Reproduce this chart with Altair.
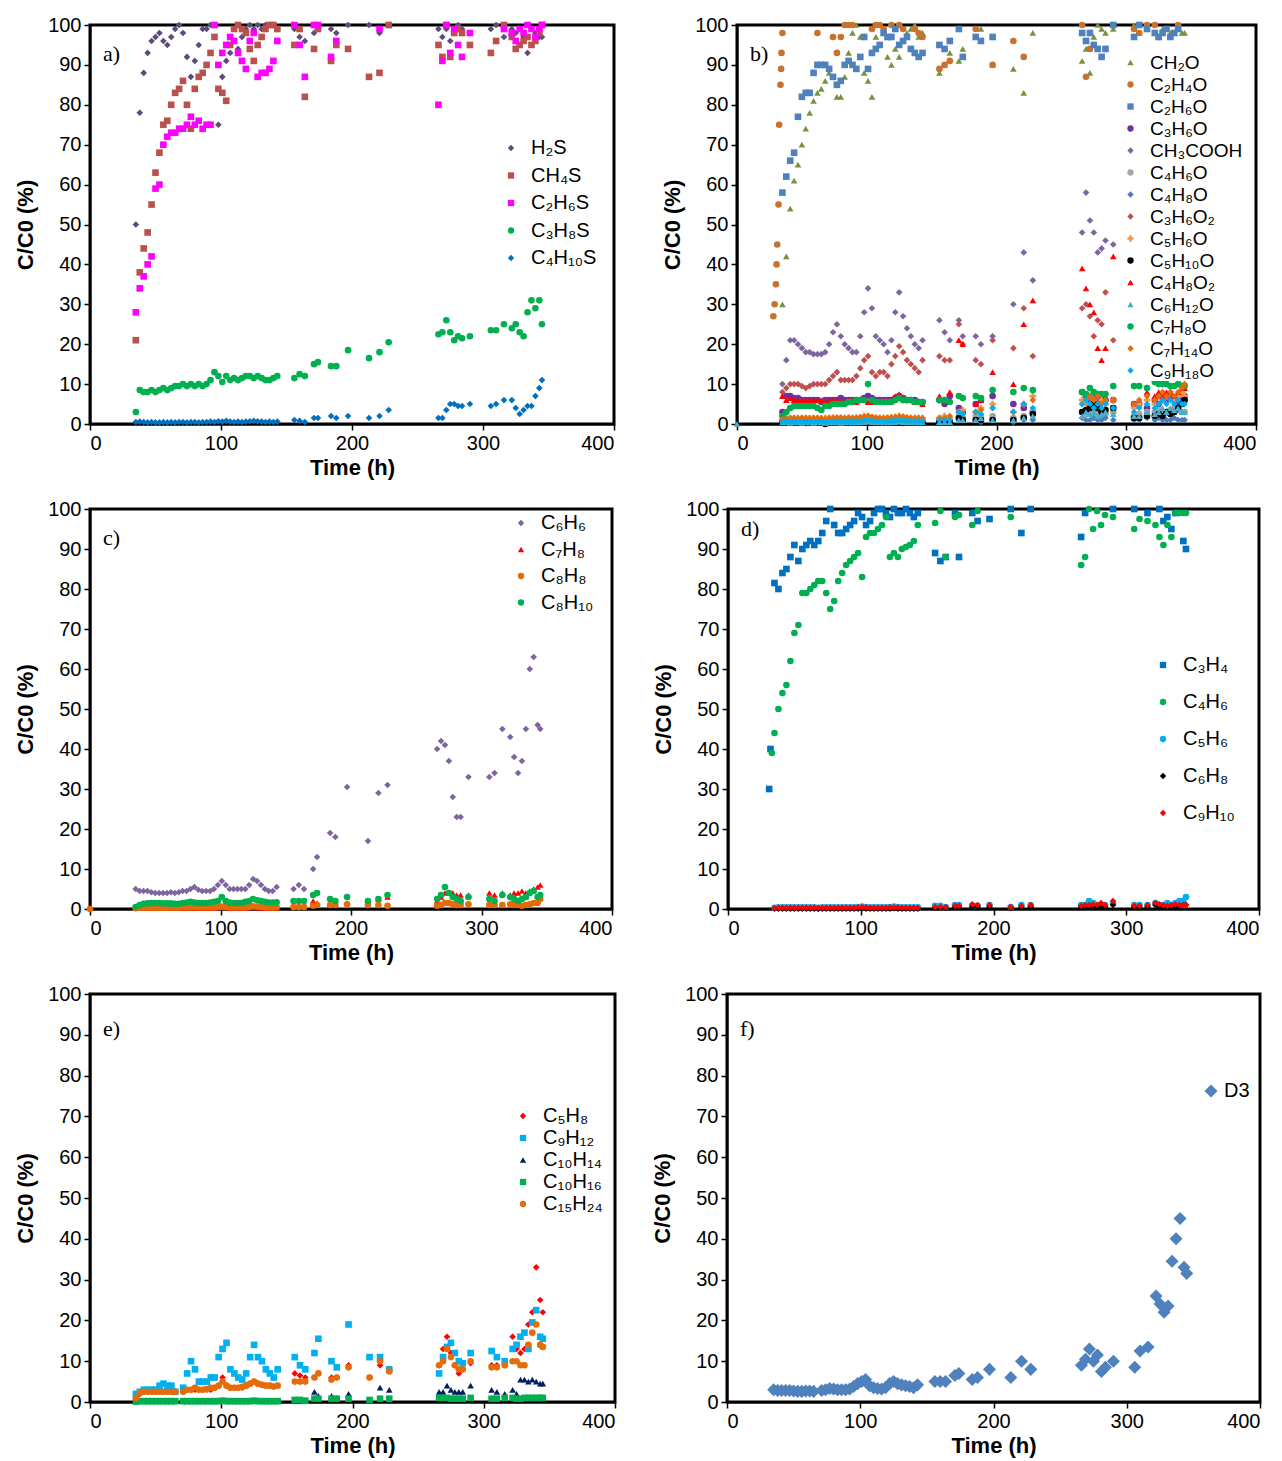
import altair as alt
import pandas as pd

N = None

# shared sampling times (h)
T = [35, 38, 41, 44, 47, 50, 53, 56, 59, 62, 65, 68, 71, 74, 77, 80, 83, 86, 89, 92,
     95, 98, 101, 104, 107, 110, 113, 116, 119, 122, 125, 128, 131, 134, 137, 140, 143,
     156, 160, 164, 171, 174, 184, 188, 197, 213, 221, 228, 266, 269, 272, 275, 278, 281, 284,
     290, 306, 310, 316, 322, 325, 328, 331, 334, 337, 340, 343, 345]

# ---------------- panel a ----------------
A_H2S = [50, 78, 88, 93, 96,  97, 98, 96, 95, 97,  99, 100, 98, 92, 87,  91, 95, 99, 99, 100,
         100, 75, 87, 91, 93,  96, 94, 97, 99, 100,  99, 100, 99, 100, 100,  100, 99,
         99, 97, 96, 98, 99,  99, 98, 100, 100, 98,  100, 99, 97, 99, 96,  98, 100, 99, 98, 99,
         100, 97, 99, 98, 99,  97, 93, 99, 98, 97,  97]
A_CH4S = [21, 38, 44, 48, 55,  63, 68, 75, 76, 80,  83, 84, 86, 80, 74,  84, 87, 88, 90, 93,
          97, 84, 83, 81, 95,  99, 100, 99, 98, 94,  91, 95, 97, 99, 100,  100, 99,
          95, 99, 82, 94, 99,  91, 95, 94, 87, 88,  100, 95, 92, 100, 92,  98, 99, 98, 95, 93,
          96, 100, 97, 94, 95,  96, 97, 95, 96, 98,  100]
A_C2H6S = [28, 34, 37, 40, 42,  59, 60, 70, 72, 73,  73, 74, 74, 75, 77,  75, 76, 74, 75, 75,
           100, 90, 93, 95, 97,  96, 93, 91, 89, 96,  98, 87, 88, 88, 89,  91, 96,
           100, 95, 87, 100, 100,  92, 96, N, N, 99,  N, 80, 91, 100, 93,  99, 95, 92, 98, N,
           N, 99, 98, 96, 99,  98, 100, 99, 97, 99,  100]
A_C3H8S = [3, 8.5, 8, 8, 8.5,  8, 8.5, 9, 8.5, 9,  9.5, 9.5, 10, 9.5, 10,  9.5, 10, 9.5, 10, 11,
           13, 12, 10.5, 12, 11,  11.5, 11, 11.5, 12, 12,  11.5, 12, 11.5, 11, 11,  11.5, 12,
           11.5, 12.5, 12, 15, 15.5,  14.5, 14.5, 18.5, 16.5, 18,  20.5, 22.5, 23, 26, 23,
           21, 22, 21.5, 22, 23.5,  23.5, 25, 24, 25, 23,  22, 28, 31, 29, 31,  25]
A_C4H10S = [0.5, 0.6, 0.5, 0.4, 0.5,  0.4, 0.4, 0.5, 0.4, 0.5,  0.4, 0.5, 0.5, 0.4, 0.5,
            0.5, 0.4, 0.5, 0.5, 0.6,  0.5, 0.7, 0.6, 0.8, 0.6,  0.5, 0.6, 0.5, 0.6, 0.7,
            0.8, 0.7, 0.6, 0.5, 0.6,  0.5, 0.6,
            1, 0.8, 0.5, 1.5, 1.5,  2, 1.5, 2, 1.5, 2,  3.5, 1.5, 1.5, 3.5, 5,  5, 4.5, 4.5, 5, 4.5,
            5, 6, 6, 4, 2.5,  3.5, 4.5, 4.5, 7, 9,  11]

# ---------------- panel b ----------------
B_EARLY_T = [28, 29, 30, 30.5, 31, 32, 32.5, 33.5, 34, 34.3]
B_C2H4O_EARLY = [27, 30, 35, 40, 45, 55, 75, 85, 89, 93]
ZERO_T = [0]
ZERO_V = [0]

B_CH2O = [30, 42, 54, 61, 65,  70, 74, 78, 81, 83,  84, 86, 88, 87, 82,  82, 87, 93, 98, 100,
          97, 88, 86, 82, 97,  100, 98, 92, 90, 94,  92, 96, 98, 99, 100,  97, 98,
          88, 90, 93, 91, 94,  97, 99, 90, 89, 83,  98, 91, 94, 88, 97,  100, 99, 98, 99, 100,
          98, 99, 98, 97, 99,  99, 98, 98, 99, 98,  98]
B_C2H4O = [98, N, N, N, N,  N, N, N, N, 98,  N, N, N, 97, 93,  97, 100, 100, 100, N,
           N, N, N, 99, 100,  100, 99, N, 100, N,  100, 99, N, N, 99,  98, 97,
           89, 90, 91, N, N,  99, N, 90, 96, 92,  N, 100, 87, 94, N,  N, N, N, N, 99,
           98, 100, 100, 97, N,  N, N, N, 100, N,  N]
B_C2H6O = [58, 62, 66, 68, 77,  82, 83, 83, 88, 90,  90, 90, 89, 87, 85,  86, 90, 91, 90, 89,
           92, 97, 89, 93, 94,  95, 98, 97, 97, 99,  95, 96, 97, 94, 93,  92, 93,
           95, 94, 96, 99, 92,  97, 96, 97, N, N,  N, 98, 96, 98, 95,  94, 92, 94, 100, 97,
           100, 99, 98, 97, 98,  99, 97, 98, 99, N,  N]
B_C3H6O = [3, 7, 7, 6.5, 6.5,  6, 6, 6, 6, 6,  5.5, 6, 6, 6, 6,  6.5, 6, 6, 6, 6,
           6, 6.5, 7, 6.5, 6,  6, 6, 6, 6, 6.5,  7, 6.5, 6, 6, 6,  5.5, 5.5,
           6, 5, 7, 4, 3,  5, 6, 7, 5, 4,  3, 8, 7, 6, 7,  6, 7, 6, 6, 5,
           5, 4, 6, 5, 7,  6, 7, 6, 5, 6,  7]
B_CH3COOH = [10, 16, 21, 21, 20,  19, 18, 18, 17.5, 17.5,  17.5, 18, 20, 23, 25,  22, 20, 19, 18, 18,
             22, 28, 34, 29, 22,  21, 20, 18, 21, 28,  33, 27, 24, 22, 20,  19, 21,
             26, 23, 21, 26, 22,  22, 20, 22, 30, 43,  36, 48, 58, 51, 48,  43, 44, 46, 45, 45,
             N, N, N, N, N,  N, N, N, N, N,  N]
B_C4H6O = [0.5, 1, 1, 1, 1,  1, 1, 1, 1, 0.8,  1, 1, 1, 1, 1,  1, 1, 1, 1, 1,
           1, 1, 1.5, 1, 1,  1, 1, 1, 1, 1,  1.2, 1, 1, 1, 1,  1, 1,
           1, 1, 1, 2, 1.5,  2, 2, 2, 1.5, 2,  3, 3, 2.5, 3, 2.5,  3, 2, 2.5, 3, 2,
           2.5, 3, 3, 3.5, 2.5,  3, 3.5, 4, 3.5, 3,  3]
B_C4H8O = [0.3, 0.3, 0.2, 0.3, 0.3,  0.3, 0.2, 0.3, 0.3, 0.3,  0.3, 0.2, 0.3, 0.3, 0.3,
           0.3, 0.3, 0.2, 0.3, 0.3,  0.3, 0.3, 0.4, 0.3, 0.3,  0.3, 0.3, 0.3, 0.3, 0.3,
           0.4, 0.3, 0.3, 0.3, 0.3,  0.3, 0.3,
           0.5, 0.5, 0.5, 1, 1,  1, 0.5, 1, 0.5, 1,  1, 1.5, 1, 1, 1.5,  1, 1, 1.5, 1, 1,
           1, 1.5, 1, 1.5, 1,  1, 1, 1.5, 1, 1,  1]
B_C3H6O2 = [8, 9, 10, 10, 10,  9.5, 9, 9.5, 10, 10,  10, 10, 11, 12, 13,  11, 11, 11, 11, 12,
            14, 16, 17, 13, 12,  13, 13, 12, 15, 17,  19.5, 18, 16, 15, 14,  13, 16,
            17, 16, 16, 25, 20,  16, 15, 21, 19, 29,  17, 29, 30, 27, 22,  26, 25, 33, 21, N,
            N, N, N, N, N,  N, N, N, N, N,  N]
B_C5H6O = [1, 1.5, 1.5, 1.5, 1.5,  1.5, 1.5, 1.4, 1.5, 1.5,  1.4, 1.5, 1.5, 1.6, 1.5,
           1.5, 1.5, 1.6, 1.5, 1.5,  1.6, 2, 2, 1.6, 1.5,  1.5, 1.5, 1.5, 1.6, 1.8,
           2, 1.8, 1.6, 1.5, 1.5,  1.5, 1.4,
           1.5, 2, 1.5, 3, 3.5,  3, 4, 5, 3, 5,  7, 6, 5, 7, 6,  4, 6, 5, 6, 4,
           5, 6, 5, 7, 6,  7, 8, 6, 7, 8,  7]
B_C5H10O = [0.3, 0.3, 0.3, 0.3, 0.3,  0.3, 0.3, 0.3, 0.3, 0.3,  0.3, 0, 0.3, 0.3, 0.3,
            0.3, 0.3, 0.3, 0.3, 0.3,  0.3, 0.3, 0.4, 0.3, 0.3,  0.3, 0.3, 0.3, 0.3, 0.3,
            0.4, 0.3, 0.3, 0.3, 0.3,  0.3, 0.3,
            0.5, 0.5, 0.5, 1.5, 1,  1, 1, 1, 1, 1.5,  2.5, 3, 3.5, 4, 5,  4, 3, 3.5, 4, 1.5,
            1.5, 2, 2, 2.5, 2,  3, 2.5, 3, 4, 5,  6]
B_C4H8O2 = [7, 6, 6.5, 6, 6,  6, 6, 6, 6, 6,  6, 5.5, 6, 6, 6,  5.5, 5.5, 6, 6, 5.5,
            6, 6, 5.5, 5.5, 5.5,  6, 6, 6, 6, 7,  7.5, 6.5, 6, 6, 5.5,  5.5, 5,
            7, 6, 8, 21, 20,  5, 6, 13, 10, 25,  31, 39, 34, 30, 28,  19, 16, 19, 42, 31,
            28, 8, 7, 8, 7,  8, 8, 7, 8, 9,  9]
B_C6H12O = [0.4, 0.4, 0.3, 0.4, 0.4,  0.3, 0.4, 0.4, 0.3, 0.4,  0.4, 0.3, 0.4, 0.4, 0.4,
            0.3, 0.4, 0.4, 0.4, 0.4,  0.4, 0.5, 0.6, 0.5, 0.4,  0.4, 0.4, 0.4, 0.4, 0.5,
            0.6, 0.5, 0.4, 0.4, 0.4,  0.4, 0.4,
            0.5, 0.5, 0.5, 1, 1,  1, 1.5, 1, 1, 1.5,  2, 2, 3, 2.5, 3,  2, 2.5, 3, 2.5, 2,
            2, 3, 2.5, 3, 4,  3, 4, 3.5, 4, 3,  3]
B_C7H8O = [2, 3, 4, 4.5, 4.5,  4.5, 4.5, 4.5, 4.5, 4,  3.5, 4.5, 4.5, 5, 5,  5, 5, 5.5, 5.5, 6,
           6, 6, 10, 6, 5.5,  5.5, 5.5, 5.5, 5.5, 6,  6.5, 6, 6, 6, 5.5,  5.5, 5.5,
           6, 6, 5.5, 7, 6.5,  7, 6.5, 8.5, 8, 9,  8.5, 8, 7.5, 9, 8,  7.5, 7.5, 7.5, 9.5, 9.5,
           9.5, 9, 10.5, 10, 10,  10, 9.5, 9.5, 10, 9.5,  9.5]
B_C7H14O = [1.2, 1.4, 1.5, 1.5, 1.4,  1.5, 1.5, 1.4, 1.5, 1.5,  1.4, 1.3, 1.5, 1.5, 1.6,
            1.6, 1.5, 1.5, 1.5, 1.6,  1.7, 1.8, 2, 1.8, 1.6,  1.5, 1.5, 1.6, 1.6, 1.7,
            1.9, 1.8, 1.6, 1.5, 1.5,  1.5, 1.5,
            1.5, 1.5, 2, 3, 2.5,  3, 3.5, 4, 3, 5,  6, 5, 6, 7, 6,  7, 5, 6, 6, 5,
            6, 7, 6, 7, 8,  7, 8, 7, 8, 9,  10]
B_C9H18O = [0.5, 0.6, 0.6, 0.5, 0.6,  0.6, 0.5, 0.6, 0.6, 0.5,  0.6, 0.5, 0.6, 0.6, 0.6,
            0.6, 0.7, 0.6, 0.6, 0.6,  0.7, 0.8, 1, 0.9, 0.7,  0.7, 0.7, 0.7, 0.8, 0.9,
            1, 0.9, 0.8, 0.7, 0.7,  0.7, 0.7,
            1, 1, 1, 3, 2.5,  3, 2.5, 4, 3, 5,  4, 5, 6, 5, 4,  5, 4, 5, 4, 3,
            4, 5, 4, 5, 6,  5, 6, 5, 6, 5,  5]

# ---------------- panel c ----------------
C_C6H6 = [5, 4.5, 4.5, 4.5, 4.2,  4, 4, 4, 4, 4.2,  4, 4.2, 4.5, 4.5, 5,  5.5, 4.8, 4.5, 4.5, 4.5,
          5, 6, 7, 6, 5,  5, 5, 5, 5, 6,  7.5, 7, 6, 5, 4.5,  4.5, 5.5,
          5, 6, 5, 10, 13,  19, 18, 30.5, 17, 29,  31, 40, 42, 41, 37,  28, 23, 23, 33, 33,
          34, 45, 43, 38, 34,  37, 45, 60, 63, 46,  45]
C_C7H8 = [0.2, 0.3, 0.3, 0.3, 0.3,  0.3, 0.3, 0.3, 0.3, 0.3,  0.3, 0.2, 0.3, 0.3, 0.3,
          0.3, 0.3, 0.3, 0.3, 0.3,  0.3, 0.4, 0.5, 0.4, 0.3,  0.3, 0.3, 0.3, 0.3, 0.4,
          0.5, 0.4, 0.3, 0.3, 0.3,  0.3, 0.3,
          1, 1, 1, 2, 1.5,  1, 1, 1.5, 1.5, 2.5,  3, 2, 3, 4, 4,  4, 3.5, 3.5, 3.5, 4,
          3.5, 4, 3.5, 4, 4,  4.5, 4, 4.5, 5, 5.5,  6]
C_C8H8 = [0.2, 0.3, 0.3, 0.3, 0.3,  0.3, 0.3, 0.3, 0.3, 0.3,  0.3, 0.3, 0.4, 0.4, 0.4,
          0.4, 0.4, 0.4, 0.4, 0.4,  0.4, 0.5, 0.6, 0.5, 0.4,  0.4, 0.4, 0.4, 0.4, 0.5,
          0.7, 0.6, 0.5, 0.4, 0.4,  0.4, 0.4,
          0.5, 0.5, 0.5, 0.8, 1,  1, 1, 1.2, 1, 1,  0.8, 0.8, 1, 1.5, 1.5,  1.2, 1, 1, 1.2, 1,
          1, 1, 1.2, 1, 1,  0.8, 1, 1.2, 1.5, 1.5,  2.5]
C_C8H10 = [0.5, 1, 1.3, 1.4, 1.5,  1.5, 1.5, 1.4, 1.4, 1.4,  1.3, 1.3, 1.5, 1.6, 1.8,
           1.6, 1.5, 1.5, 1.5, 1.6,  1.8, 2, 3, 2, 1.6,  1.5, 1.5, 1.5, 1.8, 2,
           2.5, 2.2, 2, 1.8, 1.6,  1.6, 1.7,
           2, 2, 2, 3.5, 4,  2.5, 2, 3, 2, 2.5,  3.5, 2.5, 3.5, 5.5, 4,  3, 2.5, 2, 3, 2.5,
           2, 3.5, 3, 2.5, 2,  2.5, 3, 4, 4.5, 3,  3.5]

# ---------------- panel d ----------------
D_EARLY_T = [31, 32]
D_C3H4_EARLY = [30, 40]
D_C4H6_EARLY_T = [33]
D_C4H6_EARLY = [39]
D_C3H4 = [81.5, 80, 84, 85, 88,  91, 87, 90, 91, 92,  91, 92, 94, 97, 100,  96, 94, 94, 95, 96,
          97, 99, 98, 96, 97,  99, 100, 100, 99, 98,  100, 99, 99, 100, 99,  98, 99,
          89, 87, 88, 99, 88,  99, 97, 97.5, 100, 94,  100, 93, 99, N, N,  N, N, N, 100, 100,
          N, 99, N, 100, 97,  98, 95, 99, N, 92,  90]
D_C4H6 = [44, 50, 54, 56, 62,  69, 71, 79, 79, 80,  81, 82, 82, 79, 75,  77, 82, 84, 86, 87,
          88, 89, 83, 93, 94,  94, 95, 96, 98, 88,  89, 88, 90, 90.5, 91,  92, 96,
          96.5, 99.5, 88, 98, 98.5,  96, 99.5, N, 98, N,  N, 86, 88, 100, 95,  99.5, 96, 98.5, 98, 95,
          97.5, 97, 96, 93, 91,  96, 93, 99, 99, 99,  99]
D_C5H6 = [0.3, 0.4, 0.4, 0.4, 0.4,  0.4, 0.4, 0.4, 0.4, 0.4,  0.4, 0.3, 0.4, 0.4, 0.4,
          0.4, 0.4, 0.4, 0.4, 0.4,  0.4, 0.5, 0.6, 0.5, 0.4,  0.4, 0.4, 0.4, 0.4, 0.5,
          0.6, 0.5, 0.4, 0.4, 0.4,  0.4, 0.4,
          0.8, 0.8, 0.5, 1, 1,  0.8, 0.8, 1, 0.5, 1,  1, 1, 1, 2, 1.5,  1, 1, 1, 1.5, 1,
          1, 1, 1.5, 1, 1,  1.5, 1, 1.5, 2, 2,  3]
D_C6H8 = [0.1, 0.1, 0.1, 0.1, 0.1,  0.1, 0.1, 0.1, 0.1, 0.1,  0.1, 0, 0.1, 0.1, 0.1,
          0.1, 0.1, 0.1, 0.1, 0.1,  0.1, 0.1, 0.2, 0.1, 0.1,  0.1, 0.1, 0.1, 0.1, 0.1,
          0.2, 0.1, 0.1, 0.1, 0.1,  0.1, 0.1,
          0.3, 0.3, 0.3, 0.5, 0.5,  0.5, 0.5, 0.5, 0.3, 0.5,  0.5, 0.5, 0.5, 0.8, 0.5,  0.5, 0.5, 0.5, 1, 0.5,
          0.5, 0.5, 1, 0.5, 0.5,  0.5, 0.5, 0.5, 0.8, 1,  1]
D_C9H10 = [0.2, 0.3, 0.3, 0.3, 0.3,  0.3, 0.3, 0.3, 0.3, 0.3,  0.3, 0.3, 0.3, 0.3, 0.3,
           0.3, 0.3, 0.3, 0.3, 0.3,  0.3, 0.4, 0.5, 0.4, 0.3,  0.3, 0.3, 0.3, 0.3, 0.4,
           0.4, 0.4, 0.3, 0.3, 0.3,  0.3, 0.3,
           0.5, 0.5, 0.5, 0.8, 0.8,  1.2, 1, 1, 0.5, 0.8,  1, 0.8, 1, 1, 1.2,  1, 1.5, 1, 2, 0.8,
           0.8, 1, 1.5, 1.2, 1,  0.8, 1, 1.2, 1, 1,  1]

# ---------------- panel e ----------------
E_C5H8 = [1, 2, 2.5, 2.5, 2.5,  2.5, 2.5, 2.5, 2.5, 2.5,  2.7, N, 2.5, 3, 3,  3, 3, 3, 3, 3,
          3.5, 4, 6, 4, 3.5,  3.5, 3.5, 3.5, 4, 4.5,  5, 4.5, 4.2, 4, 4,  3.8, 4,
          7, 6.5, 6, N, N,  6, 6, 9, 6, 9,  8, 9, 13, 16, 12,  9, 7, 8, 9.5, 9,
          9, 9, 16, 13, 12,  13, 19, 22, 33, 25,  22]
E_C9H12 = [2, 2.5, 3, 3, 3,  3, 4, 4.5, 4, 4,  2.5, N, 3.5, 7, 10,  8, 5, 5, 5, 6,
           6, 11, 13, 14.5, 8,  7, 6, 5.5, 7, 11,  14, 11, 10, 8, 7,  6, 8,
           11, 9, 8, 12, 15.5,  10, 8.5, 19, 11, 11,  8, 7, 11, 13.5, 14.5,  12, 10, 9.5, 12, 12.5,
           11, 10, 13, 14, 16,  17, 13, 19.5, 22.5, 16,  15.5]
E_C10H14 = [0.2, 0.3, 0.3, 0.3, 0.3,  0.3, 0.3, 0.3, 0.3, 0.3,  0.3, N, 0.3, 0.3, 0.3,
            0.3, 0.3, 0.3, 0.3, 0.3,  0.3, 0.4, 0.5, 0.4, 0.3,  0.3, 0.3, 0.3, 0.3, 0.4,
            0.5, 0.4, 0.3, 0.3, 0.3,  0.3, 0.3,
            0.5, 0.5, 0.5, 2.5, 1.5,  1.5, 1, 2, 0.5, 3.5,  3, 2.5, 2.5, 4, 3,  2.5, 2.5, 2.5, 4, 3,
            2.5, 2, 3, 2, 5.5,  5.5, 5, 5.5, 5, 4.5,  4.5]
E_C10H16 = [0.1, 0.2, 0.2, 0.2, 0.2,  0.2, 0.2, 0.2, 0.2, 0.2,  0.2, N, 0.2, 0.2, 0.2,
            0.2, 0.2, 0.2, 0.2, 0.2,  0.2, 0.2, 0.3, 0.2, 0.2,  0.2, 0.2, 0.2, 0.2, 0.2,
            0.3, 0.2, 0.2, 0.2, 0.2,  0.2, 0.2,
            0.5, 0.5, 0.3, 0.8, 0.8,  0.8, 0.8, 0.8, 0.5, 0.8,  0.8, 1, 1, 1, 0.8,  0.8, 0.8, 0.8, 1, 0.8,
            0.8, 1, 1, 0.8, 0.8,  1, 1, 1, 1, 1,  1]
E_C15H24 = [1, 2.3, 2.5, 2.5, 2.5,  2.5, 2.5, 2.5, 2.5, 2.5,  2.5, N, 2.5, 3, 3,  3.5, 3, 3, 3.2, 3.5,
            3.5, 4, 5, 4, 3.5,  3.5, 3.5, 3.7, 4, 4.5,  5, 4.5, 4.2, 4, 4,  3.8, 4,
            5, 5, 5, 6, 7,  5.5, 6, 8.5, 6, 10,  7.5, 9, 10, 13, 11,  9, 8, 8, 10, 8.5,
            8.5, 9, 10, 10, 9,  9, 14, 17, 19, 14,  13.5]

# ---------------- panel f ----------------
F_D3 = [3, 2.8, 2.8, 2.8, 2.8,  2.7, 2.6, 2.6, 2.7, 2.7,  2.6, N, 2.8, 3, 3.3,  3.2, 3, 3, 3, 3.2,
        3.8, 4.5, 5, 5.5, 4,  3.5, 3.3, 3.2, 3.5, 4.5,  5, 4.5, 4.2, 4, 3.8,  3.5, 4.2,
        5, 5, 5, 6.5, 7,  5.5, 6, 8, 6, 10,  8, 9, 10.5, 13, 10,  11.5, 7.5, 8.5, 10, 8.5,
        12.5, 13.5, 26, 24, 22,  23.5, 34.5, 40, 45, 33,  31.5]

# ---------------- helpers ----------------
FONT = "Liberation Sans"


def build(entries):
    rows = []
    for name, vals, et, ev in entries:
        for t, v in zip(et, ev):
            rows.append({"t": t, "v": v, "s": name})
        for t, v in zip(T, vals):
            if v is not None:
                rows.append({"t": t, "v": v, "s": name})
    return pd.DataFrame(rows)


def panel(entries, colors, shapes, letter, lx, ly, row_pad, w, h, size=44,
          sym_size=40, lab_size=20, fill=None, letter_y=29, lab_off=10):
    names = [e[0] for e in entries]
    df = build(entries)
    leg_kw = dict(title=None, orient="none", legendX=lx, legendY=ly, direction="vertical",
                  rowPadding=row_pad, labelFont=FONT, labelFontSize=lab_size,
                  labelColor="black", symbolSize=sym_size, symbolStrokeWidth=0,
                  labelOffset=lab_off, padding=0, labelLimit=300)
    if fill:
        leg_kw["fillColor"] = fill
    leg = alt.Legend(**leg_kw)
    pts = alt.Chart(df).mark_point(filled=True, size=size, opacity=1, strokeWidth=0).encode(
        x=alt.X("t:Q", scale=alt.Scale(domain=[0, 400], nice=False),
                axis=alt.Axis(values=[0, 100, 200, 300, 400], title="Time (h)")),
        y=alt.Y("v:Q", scale=alt.Scale(domain=[0, 100], nice=False),
                axis=alt.Axis(values=[0, 10, 20, 30, 40, 50, 60, 70, 80, 90, 100],
                              title="C/C0 (%)")),
        color=alt.Color("s:N", scale=alt.Scale(domain=names, range=colors), legend=leg),
        shape=alt.Shape("s:N", scale=alt.Scale(domain=names, range=shapes), legend=leg),
    )
    txt = alt.Chart(pd.DataFrame({"lab": [letter]})).mark_text(
        font="Liberation Serif", fontSize=22, align="left", baseline="middle", color="black"
    ).encode(x=alt.value(13), y=alt.value(letter_y), text="lab:N")
    return alt.layer(pts, txt).properties(width=w, height=h)


pa = panel(
    [("H₂S", A_H2S, [], []), ("CH₄S", A_CH4S, [], []), ("C₂H₆S", A_C2H6S, [], []),
     ("C₃H₈S", A_C3H8S, [], []), ("C₄H₁₀S", A_C4H10S, [], [])],
    ["#604A7B", "#B9524C", "#FF00FF", "#00B050", "#0070C0"],
    ["diamond", "square", "square", "circle", "diamond"],
    "a)", 411, 113, 7.5, 524, 399)

pb = panel(
    [("CH₂O", B_CH2O, [], []), ("C₂H₄O", B_C2H4O, B_EARLY_T, B_C2H4O_EARLY),
     ("C₂H₆O", B_C2H6O, [], []), ("C₃H₆O", B_C3H6O, [], []),
     ("CH₃COOH", B_CH3COOH, [], []), ("C₄H₆O", B_C4H6O, [], []),
     ("C₄H₈O", B_C4H8O, [], []), ("C₃H₆O₂", B_C3H6O2, [], []),
     ("C₅H₆O", B_C5H6O, [], []), ("C₅H₁₀O", B_C5H10O, [], []),
     ("C₄H₈O₂", B_C4H8O2, [], []), ("C₆H₁₂O", B_C6H12O, ZERO_T, ZERO_V),
     ("C₇H₈O", B_C7H8O, [], []), ("C₇H₁₄O", B_C7H14O, [], []),
     ("C₉H₁₈O", B_C9H18O, [], [])],
    ["#77933C", "#C7732F", "#4F81BD", "#7030A0", "#7F64A2", "#A6A6A6", "#4A7EBB",
     "#C0504D", "#F79646", "#000000", "#FF0000", "#4BACC6", "#00B050", "#E46C0A", "#00B0F0"],
    ["triangle-up", "circle", "square", "circle", "diamond", "circle", "diamond", "diamond",
     "cross", "circle", "triangle-up", "triangle-up", "circle", "diamond", "diamond"],
    "b)", 384, 28, 2, 519, 399, lab_size=19, fill="white")

pc = panel(
    [("C₆H₆", C_C6H6, [], []), ("C₇H₈", C_C7H8, [], []), ("C₈H₈", C_C8H8, ZERO_T, ZERO_V),
     ("C₈H₁₀", C_C8H10, [], [])],
    ["#8064A2", "#FF0000", "#E46C0A", "#00B050"],
    ["diamond", "triangle-up", "circle", "circle"],
    "c)", 421, 4, 6.5, 522, 400)

pd_ = panel(
    [("C₃H₄", D_C3H4, D_EARLY_T, D_C3H4_EARLY), ("C₄H₆", D_C4H6, D_C4H6_EARLY_T, D_C4H6_EARLY),
     ("C₅H₆", D_C5H6, [], []), ("C₆H₈", D_C6H8, [], []), ("C₉H₁₀", D_C9H10, [], [])],
    ["#0070C0", "#00B050", "#00B0F0", "#000000", "#FF0000"],
    ["square", "circle", "circle", "diamond", "diamond"],
    "d)", 425, 146, 17, 531, 400, letter_y=20)

pe = panel(
    [("C₅H₈", E_C5H8, [], []), ("C₉H₁₂", E_C9H12, [], []), ("C₁₀H₁₄", E_C10H14, [], []),
     ("C₁₀H₁₆", E_C10H16, [], []), ("C₁₅H₂₄", E_C15H24, [], [])],
    ["#FF0000", "#00B0F0", "#002060", "#00B050", "#E46C0A"],
    ["diamond", "square", "triangle-up", "square", "circle"],
    "e)", 423, 112, 2, 525, 408, letter_y=35)

pf = panel(
    [("D3", F_D3, [], [])],
    ["#4F81BD"], ["diamond"],
    "f)", 474, 87, 2, 533, 408, size=170, sym_size=170, letter_y=35, lab_off=3)

row1 = alt.hconcat(pa, pb, spacing=43).resolve_scale(color="independent", shape="independent")
row2 = alt.hconcat(pc, pd_, spacing=36).resolve_scale(color="independent", shape="independent")
row3 = alt.hconcat(pe, pf, spacing=32).resolve_scale(color="independent", shape="independent")

chart = alt.vconcat(row1, row2, row3, spacing=17).resolve_scale(
    color="independent", shape="independent"
).resolve_legend(
    color="independent", shape="independent"
).configure(
    background="white"
).configure_view(
    stroke="black", strokeWidth=3
).configure_axis(
    labelFont=FONT, labelFontSize=20, labelColor="black", labelPadding=3,
    titleFont=FONT, titleFontSize=22, titleFontWeight="bold", titleColor="black",
    domainColor="black", domainWidth=2, tickColor="black", tickSize=6, tickWidth=1.5,
    grid=False
).configure_axisY(titlePadding=10).configure_axisX(titlePadding=4)

chart.save("out.html", embed_options={"renderer": "svg", "actions": False})
